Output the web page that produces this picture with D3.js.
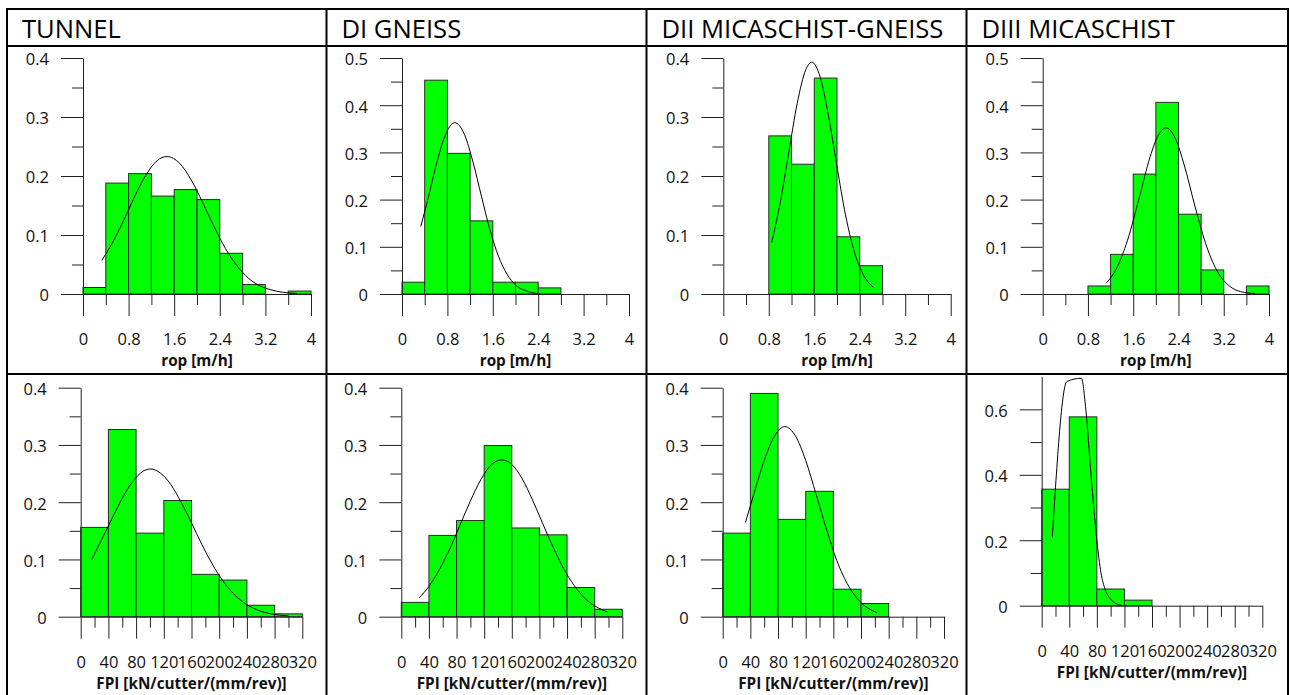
<!DOCTYPE html>
<html>
<head>
<meta charset="utf-8">
<script src="https://cdn.jsdelivr.net/npm/d3@7"></script>
<style>
  html, body { margin: 0; padding: 0; background: #fff; }
  svg { display: block; }
  .tick line, .domain { stroke: #222; stroke-width: 1; }
  .tick text { font-family: "Open Sans", sans-serif; font-size: 16.5px; fill: #111; }
  .atitle { font-family: "Open Sans", sans-serif; font-size: 15.3px; font-weight: bold; fill: #111; }
  .hdr { font-family: "Open Sans", sans-serif; font-size: 25.6px; fill: #000; }
</style>
</head>
<body>
<svg id="c" width="1291" height="695"></svg>
<script>
// ---------------- DATA ----------------
const headers = ["TUNNEL", "DI GNEISS", "DII MICASCHIST-GNEISS", "DIII MICASCHIST"];
const ropTitle = "rop [m/h]";
const fpiTitle = "FPI [kN/cutter/(mm/rev)]";

const ropTickValues = [0, 0.8, 1.6, 2.4, 3.2, 4];
const ropTickLabels = ["0", "0.8", "1.6", "2.4", "3.2", "4"];
const ropMinorTicks = [0.4, 1.2, 2.0, 2.8, 3.6];
const ropBinWidth = 0.4;

const fpiTickValues = [0, 40, 80, 120, 160, 200, 240, 280, 320];
const fpiTickLabels = ["0", "40", "80", "120", "160", "200", "240", "280", "320"];
const fpiMinorTicks = [20, 60, 100, 140, 180, 220, 260, 300];
const fpiBinWidth = 40;

const yTicks04 = [0, 0.1, 0.2, 0.3, 0.4];
const yMinor04 = [0.05, 0.15, 0.25, 0.35];
const yTicks05 = [0, 0.1, 0.2, 0.3, 0.4, 0.5];
const yMinor05 = [0.05, 0.15, 0.25, 0.35, 0.45];
const yTicks07 = [0, 0.2, 0.4, 0.6];
const yMinor07 = [0.1, 0.3, 0.5];

// relative frequencies per bin
const ropTunnel = [0.011, 0.188, 0.204, 0.166, 0.177, 0.160, 0.069, 0.016, 0, 0.005];
const ropDI     = [0.025, 0.453, 0.298, 0.155, 0.025, 0.025, 0.013, 0, 0, 0];
const ropDII    = [0, 0, 0.268, 0.220, 0.366, 0.097, 0.048, 0, 0, 0];
const ropDIII   = [0, 0, 0.017, 0.084, 0.254, 0.406, 0.169, 0.051, 0, 0.017];
const fpiTunnel = [0.156, 0.327, 0.146, 0.203, 0.074, 0.064, 0.020, 0.005];
const fpiDI     = [0.025, 0.142, 0.168, 0.299, 0.155, 0.143, 0.051, 0.013];
const fpiDII    = [0.146, 0.390, 0.170, 0.219, 0.048, 0.023, 0, 0];
const fpiDIII   = [0.356, 0.577, 0.051, 0.017, 0, 0, 0, 0];

// fitted curves, points [x, y]
const ropTunnelFit = [[0.33,0.057],[0.5,0.084],[0.7,0.122],[0.9,0.164],[1.1,0.201],[1.3,0.226],[1.47,0.233],[1.7,0.221],[1.9,0.193],[2.1,0.155],[2.3,0.114],[2.5,0.077],[2.7,0.048],[2.9,0.027],[3.1,0.014],[3.3,0.007],[3.5,0.003],[3.75,0.001]];
const ropDIFit = [[0.33,0.143],[0.45,0.198],[0.6,0.272],[0.75,0.333],[0.93,0.363],[1.1,0.338],[1.25,0.28],[1.4,0.207],[1.55,0.136],[1.7,0.08],[1.85,0.042],[2.0,0.019],[2.2,0.006],[2.4,0.001]];
const ropDIIFit = [[0.85,0.087],[1.0,0.154],[1.15,0.239],[1.3,0.323],[1.45,0.38],[1.555,0.393],[1.7,0.369],[1.85,0.302],[2.0,0.216],[2.15,0.134],[2.3,0.073],[2.45,0.035],[2.64,0.011]];
const ropDIIIFit = [[1.13,0.024],[1.3,0.053],[1.5,0.114],[1.7,0.201],[1.9,0.291],[2.05,0.338],[2.18,0.352],[2.35,0.328],[2.5,0.274],[2.7,0.182],[2.9,0.1],[3.1,0.045],[3.3,0.017],[3.5,0.005],[3.75,0.001]];
const fpiTunnelFit = [[16,0.1],[30,0.134],[45,0.171],[60,0.207],[75,0.236],[90,0.254],[101,0.258],[115,0.251],[130,0.231],[145,0.2],[160,0.164],[175,0.126],[190,0.092],[205,0.063],[220,0.041],[240,0.021],[260,0.0095],[280,0.004],[300,0.0015]];
const fpiDIFit = [[26,0.033],[40,0.053],[55,0.082],[70,0.118],[85,0.16],[100,0.202],[115,0.239],[130,0.265],[145,0.274],[160,0.266],[175,0.241],[190,0.204],[205,0.162],[220,0.121],[235,0.084],[250,0.055],[265,0.033],[280,0.019],[299,0.008]];
const fpiDIIFit = [[33,0.165],[45,0.214],[60,0.273],[75,0.316],[90,0.332],[105,0.316],[120,0.273],[135,0.214],[150,0.153],[165,0.098],[180,0.058],[195,0.031],[210,0.015],[223,0.007]];
const fpiDIIIFit = [[15.4,0.21],[36.5,0.685],[57.5,0.695],[64,0.6],[71.5,0.4],[80,0.2],[86,0.1],[92,0.05],[100,0.02],[108,0.006],[116,0.001]];

// ---------------- LAYOUT ----------------
const svg = d3.select("#c");
const colX = [7, 326.5, 646.5, 966.5, 1288];
const tableTop = 9, headerBottom = 46, rowDiv = 374, tableBottom = 720;

const rop = { xMax: 4, bw: ropBinWidth, ticks: ropTickValues, labels: ropTickLabels, minor: ropMinorTicks, title: ropTitle };
const fpi = { xMax: 320, bw: fpiBinWidth, ticks: fpiTickValues, labels: fpiTickLabels, minor: fpiMinorTicks, title: fpiTitle };

const charts = [
  { kind: rop, values: ropTunnel, fit: ropTunnelFit, ox: 83,    x1: 311,   y0: 294,   yTop: 58,    yMax: 0.4, yt: yTicks04, ym: yMinor04 },
  { kind: rop, values: ropDI,     fit: ropDIFit,     ox: 402,   x1: 629,   y0: 294,   yTop: 58,    yMax: 0.5, yt: yTicks05, ym: yMinor05 },
  { kind: rop, values: ropDII,    fit: ropDIIFit,    ox: 723.3, x1: 950.7, y0: 294,   yTop: 58,    yMax: 0.4, yt: yTicks04, ym: yMinor04 },
  { kind: rop, values: ropDIII,   fit: ropDIIIFit,   ox: 1042.7,x1: 1269,  y0: 294,   yTop: 58,    yMax: 0.5, yt: yTicks05, ym: yMinor05 },
  { kind: fpi, values: fpiTunnel, fit: fpiTunnelFit, ox: 80.7,  x1: 302.3, y0: 616.7, yTop: 387.7, yMax: 0.4, yt: yTicks04, ym: yMinor04 },
  { kind: fpi, values: fpiDI,     fit: fpiDIFit,     ox: 401.3, x1: 622.3, y0: 616.7, yTop: 387.7, yMax: 0.4, yt: yTicks04, ym: yMinor04 },
  { kind: fpi, values: fpiDII,    fit: fpiDIIFit,    ox: 722.7, x1: 944,   y0: 616.7, yTop: 387.7, yMax: 0.4, yt: yTicks04, ym: yMinor04 },
  { kind: fpi, values: fpiDIII,   fit: fpiDIIIFit,   ox: 1041.7,x1: 1262.3,y0: 605.7, yTop: 376.6, yMax: 0.7, yt: yTicks07, ym: yMinor07 }
];

function drawChart(c) {
  const k = c.kind;
  const g = svg.append("g");
  const x = d3.scaleLinear().domain([0, k.xMax]).range([c.ox, c.x1]);
  const y = d3.scaleLinear().domain([0, c.yMax]).range([c.y0, c.yTop]);

  const bins = c.values.map((v, i) => ({ x0: i * k.bw, x1: (i + 1) * k.bw, v })).filter(d => d.v > 0);
  g.append("g").selectAll("rect").data(bins).join("rect")
    .attr("x", d => x(d.x0))
    .attr("width", d => x(d.x1) - x(d.x0))
    .attr("y", d => y(d.v))
    .attr("height", d => y(0) - y(d.v))
    .attr("fill", "#00ff00")
    .attr("stroke", "#2a2a2a")
    .attr("stroke-width", 1);

  // y axis minor + major
  const ymin = g.append("g").attr("transform", `translate(${c.ox},0)`)
    .call(d3.axisLeft(y).tickValues(c.ym).tickSize(11).tickSizeOuter(0).tickFormat(""));
  ymin.select(".domain").remove();
  const ymaj = g.append("g").attr("transform", `translate(${c.ox},0)`)
    .call(d3.axisLeft(y).tickValues(c.yt).tickSize(22).tickPadding(12).tickSizeOuter(0).tickFormat(d3.format("~g")));
  ymaj.selectAll(".tick text").attr("dy", "0.42em");
  ymaj.select(".domain").attr("fill", "none");

  // x axis minor + major
  const xmin = g.append("g").attr("transform", `translate(0,${c.y0})`)
    .call(d3.axisBottom(x).tickValues(k.minor).tickSize(11).tickSizeOuter(0).tickFormat(""));
  xmin.select(".domain").remove();
  const xmaj = g.append("g").attr("transform", `translate(0,${c.y0})`)
    .call(d3.axisBottom(x).tickValues(k.ticks).tickSize(22).tickSizeOuter(0).tickFormat((d, i) => k.labels[i]));
  xmaj.selectAll(".tick text").attr("y", 51).attr("dy", 0);
  xmaj.select(".domain").attr("fill", "none");

  // fitted curve
  const line = d3.line().x(d => x(d[0])).y(d => y(d[1])).curve(d3.curveMonotoneX);
  g.append("path").datum(c.fit).attr("d", line)
    .attr("fill", "none").attr("stroke", "#000").attr("stroke-width", 1);

  // axis title
  g.append("text").attr("class", "atitle")
    .attr("x", (c.ox + c.x1) / 2).attr("y", c.y0 + 72)
    .attr("text-anchor", "middle").text(k.title);
}

charts.forEach(drawChart);

// ---------------- TABLE ----------------
const grid = svg.append("g").attr("stroke", "#000").attr("stroke-width", 2);
grid.append("line").attr("x1", colX[0] - 1).attr("x2", colX[4] + 1).attr("y1", tableTop).attr("y2", tableTop);
grid.append("line").attr("x1", colX[0]).attr("x2", colX[4]).attr("y1", headerBottom).attr("y2", headerBottom);
grid.append("line").attr("x1", colX[0]).attr("x2", colX[4]).attr("y1", rowDiv).attr("y2", rowDiv);
colX.forEach(cx => grid.append("line").attr("x1", cx).attr("x2", cx).attr("y1", tableTop).attr("y2", tableBottom));

svg.append("g").selectAll("text").data(headers).join("text")
  .attr("class", "hdr")
  .attr("x", (d, i) => colX[i] + 15)
  .attr("y", 38)
  .text(d => d);
</script>
</body>
</html>
